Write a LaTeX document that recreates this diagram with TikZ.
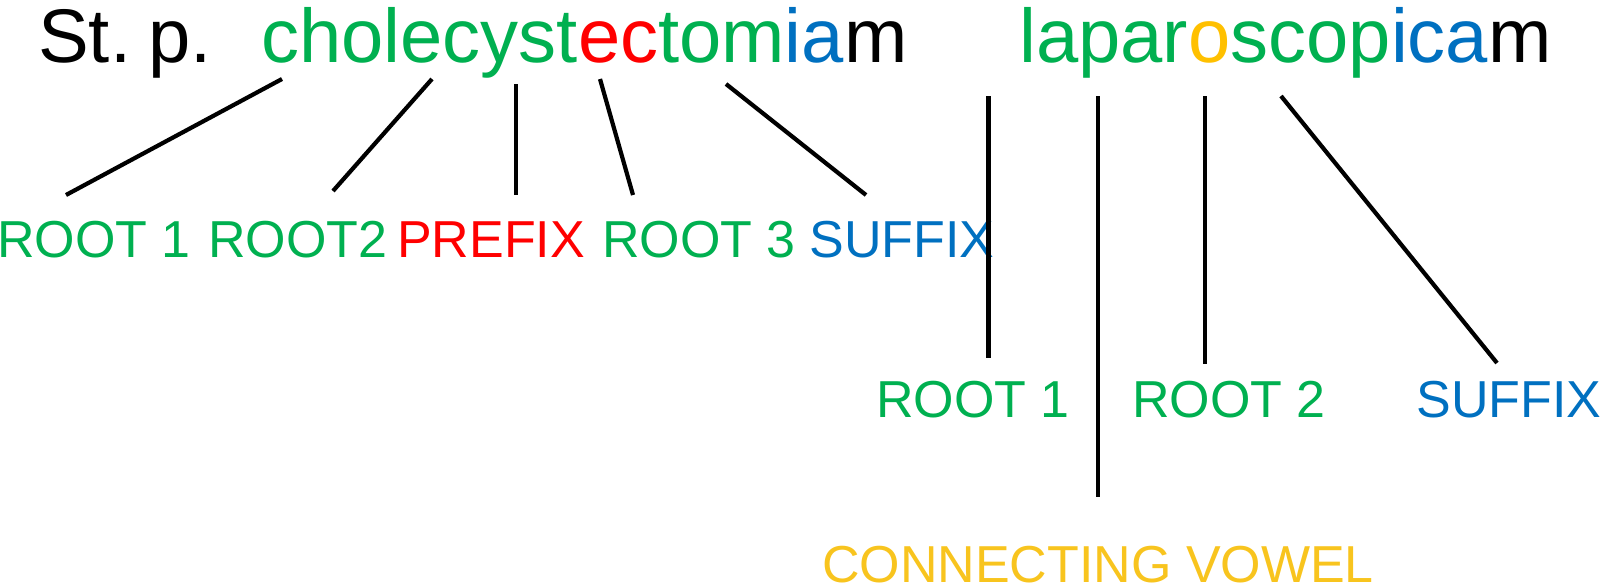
\documentclass[tikz,border=0pt]{standalone}
\usepackage{fontspec}
\setmainfont{Liberation Sans}
\definecolor{tgreen}{HTML}{00B050}
\definecolor{tred}{HTML}{FF0000}
\definecolor{tblue}{HTML}{0070C0}
\definecolor{torange}{HTML}{FFC000}
\definecolor{tyellow}{HTML}{F8C41E}
\begin{document}
\begin{tikzpicture}[x=1pt,y=-1pt,
  title/.style={inner sep=0pt,anchor=base west,font=\fontsize{76}{80}\selectfont},
  lab/.style={inner sep=0pt,anchor=base,text depth=0pt,font=\fontsize{52}{56}\selectfont},
  link/.style={line width=4.2pt,black}]
\useasboundingbox (0,0) rectangle (1618,587);
% title words
\node[title] (stp) at (38,62) {St.\hspace{17pt}p.};
\node[title] (chole) at (261,62) {\textcolor{tgreen}{cholecyst}\textcolor{tred}{ec}\textcolor{tgreen}{tom}\textcolor{tblue}{ia}m};
\node[title] (lapa) at (1019,62) {\textcolor{tgreen}{lapar}\textcolor{torange}{o}\textcolor{tgreen}{scop}\textcolor{tblue}{ica}m};
% labels row 1
\node[lab,text=tgreen] (r1) at (94,257) {ROOT 1};
\node[lab,text=tgreen] (r2) at (298,257) {ROOT2};
\node[lab,text=tred] (pre) at (491,257) {PREFIX};
\node[lab,text=tgreen] (r3) at (699,257) {ROOT 3};
\node[lab,text=tblue] (suf) at (902,257) {SUFFIX};
% labels row 2
\node[lab,text=tgreen] (lr1) at (973,417) {ROOT 1};
\node[lab,text=tgreen] (lr2) at (1229,417) {ROOT 2};
\node[lab,text=tblue] (lsuf) at (1509,417) {SUFFIX};
\node[lab,text=tyellow] (cv) at (1098,582) {CONNECTING VOWEL};
% line end points
\coordinate (c1a) at (282,79);  \coordinate (c1b) at (66,195);
\coordinate (c2a) at (432,79);  \coordinate (c2b) at (333,191);
\coordinate (c3a) at (516,84);  \coordinate (c3b) at (516,195);
\coordinate (c4a) at (600,79);  \coordinate (c4b) at (633,195);
\coordinate (c5a) at (726,84);  \coordinate (c5b) at (866,195);
\coordinate (l1a) at (988.5,96); \coordinate (l1b) at (988.5,358);
\coordinate (l2a) at (1098,96);  \coordinate (l2b) at (1098,497);
\coordinate (l3a) at (1205,96);  \coordinate (l3b) at (1205,364);
\coordinate (l4a) at (1281,96);  \coordinate (l4b) at (1497,363);
\draw[link] (c1a) -- (c1b);
\draw[link] (c2a) -- (c2b);
\draw[link] (c3a) -- (c3b);
\draw[link] (c4a) -- (c4b);
\draw[link] (c5a) -- (c5b);
\draw[link] (l1a) -- (l1b);
\draw[link] (l2a) -- (l2b);
\draw[link] (l3a) -- (l3b);
\draw[link] (l4a) -- (l4b);
\end{tikzpicture}
\end{document}
